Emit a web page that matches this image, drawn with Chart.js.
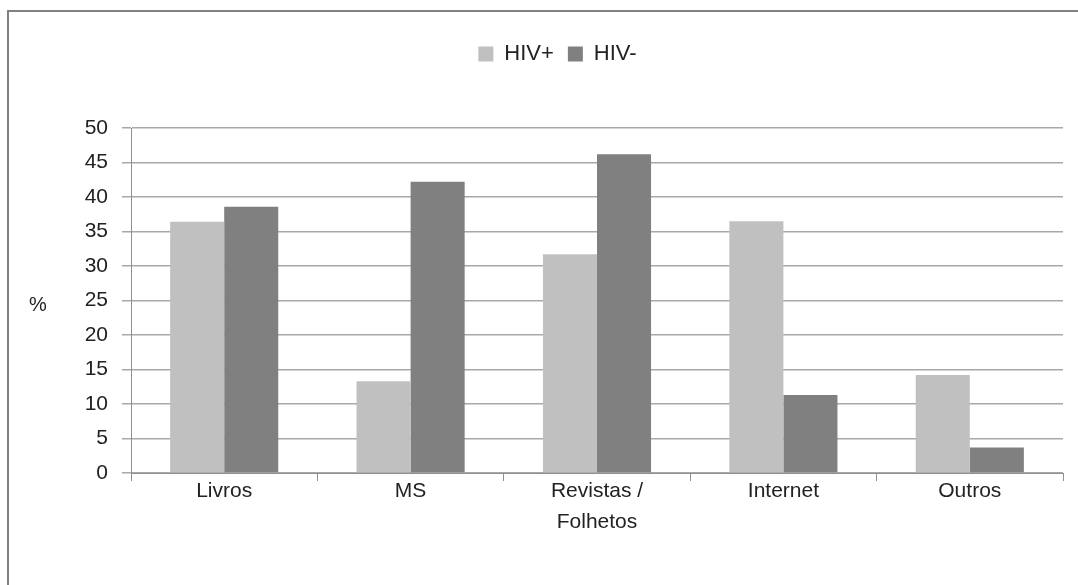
<!DOCTYPE html>
<html>
<head>
<meta charset="utf-8">
<script src="https://cdn.jsdelivr.net/npm/chart.js@4.4.1/dist/chart.umd.min.js"></script>
<style>
  body { margin: 0; background: #fff; overflow: hidden; }
  #wrap { position: relative; width: 1078px; height: 585px; overflow: hidden; }
  #frame { position: absolute; left: 7px; top: 10px; width: 1100px; height: 600px; border-left: 2px solid #808080; border-top: 2px solid #808080; pointer-events: none; }
  #chart-box { position: absolute; left: 0; top: 0; width: 1078px; height: 585px; }
</style>
</head>
<body>
<div id="wrap">
  <div id="chart-box"><canvas id="bar-chart"></canvas></div>
  <div id="frame"></div>
</div>
<script>
const categories = ['Livros', 'MS', ['Revistas /', 'Folhetos'], 'Internet', 'Outros']
const hivPositive = [36.4, 13.3, 31.7, 36.5, 14.2]
const hivNegative = [38.6, 42.2, 46.2, 11.3, 3.7]
const yTicks = [0, 5, 10, 15, 20, 25, 30, 35, 40, 45, 50]
const yLabel = '%'

const fontFamily = '"Liberation Sans", Arial, sans-serif'
const textColor = '#222'

// percent sign sits to the left of the tick labels, not rotated
const percentLabel = {
  id: 'percentLabel',
  afterDraw(chart) {
    const { ctx, chartArea } = chart
    ctx.save()
    ctx.fillStyle = textColor
    ctx.font = '20px ' + fontFamily
    ctx.textAlign = 'center'
    ctx.textBaseline = 'middle'
    ctx.fillText(yLabel, 38, (chartArea.top + chartArea.bottom) / 2 + 5)
    ctx.restore()
  }
}

// keep legend block tall enough so the plot starts where the reference does
const legendSpacer = {
  id: 'legendSpacer',
  beforeInit(chart) {
    const fit = chart.legend.fit
    chart.legend.fit = function () {
      fit.bind(chart.legend)()
      this.height = 128 - 29
    }
  }
}

const data = {
  labels: categories,
  datasets: [
    { label: 'HIV+', data: hivPositive, backgroundColor: '#c0c0c0', borderWidth: 0 },
    { label: 'HIV-', data: hivNegative, backgroundColor: '#808080', borderWidth: 0 }
  ]
}

const config = {
  type: 'bar',
  data: data,
  plugins: [percentLabel, legendSpacer],
  options: {
    responsive: true,
    maintainAspectRatio: false,
    animation: false,
    layout: { padding: { top: 29, right: 15, left: 52, bottom: 0 } },
    datasets: { bar: { categoryPercentage: 0.58, barPercentage: 1 } },
    plugins: {
      tooltip: { enabled: false },
      legend: {
        position: 'top',
        labels: {
          boxWidth: 15,
          boxHeight: 15,
          padding: 14,
          color: textColor,
          font: { family: fontFamily, size: 22 }
        }
      }
    },
    scales: {
      x: {
        afterFit(scale) { scale.height = 112 },
        grid: { display: true, offset: true, drawOnChartArea: false, color: '#909090', tickLength: 8 },
        border: { color: '#909090' },
        ticks: { color: textColor, font: { family: fontFamily, size: 21, lineHeight: 1.48 }, padding: -5, maxRotation: 0 }
      },
      y: {
        min: 0,
        max: 50,
        afterFit(scale) { scale.width = 131 - 52 },
        afterBuildTicks(scale) { scale.ticks = yTicks.map(v => ({ value: v })) },
        grid: { color: '#a8a8a8', lineWidth: 1.5, tickLength: 9 },
        border: { color: '#909090' },
        ticks: { color: textColor, font: { family: fontFamily, size: 21 }, padding: 14 }
      }
    }
  }
}

new Chart(document.getElementById('bar-chart'), config)
</script>
</body>
</html>
